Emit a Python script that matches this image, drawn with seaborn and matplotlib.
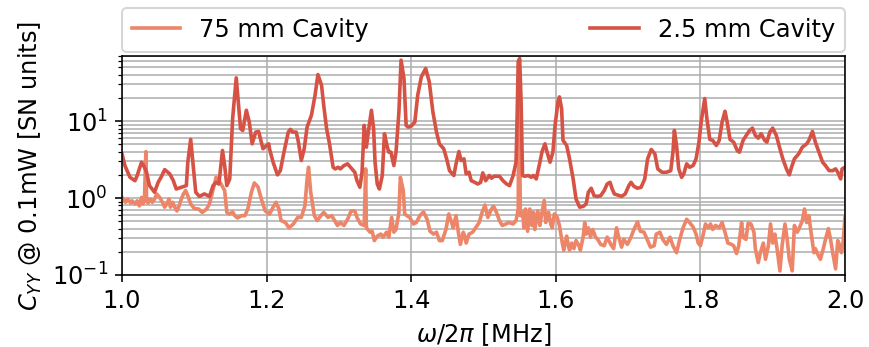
import numpy as np
import pandas as pd
import matplotlib
matplotlib.use("Agg")
import matplotlib.pyplot as plt
import seaborn as sns

# 2.5 mm cavity (dark)
f_short = [1.000, 1.004, 1.011, 1.018, 1.021, 1.027, 1.031, 1.034, 1.038, 1.045, 1.050, 1.054, 1.059, 1.066,
           1.071, 1.075, 1.082, 1.089, 1.091, 1.095, 1.098, 1.102, 1.107, 1.114, 1.121, 1.126, 1.130, 1.134,
           1.139, 1.142, 1.145, 1.149, 1.153, 1.158, 1.164, 1.167, 1.172, 1.176, 1.180, 1.185, 1.189,
           1.195, 1.200, 1.203, 1.204, 1.209, 1.215, 1.219, 1.224, 1.230, 1.233, 1.236, 1.241, 1.244, 1.248,
           1.252, 1.256, 1.262, 1.267, 1.271, 1.276, 1.279, 1.283, 1.287, 1.292, 1.295, 1.299, 1.302, 1.307,
           1.312, 1.316, 1.322, 1.325, 1.329, 1.332, 1.335, 1.338, 1.341, 1.345, 1.348, 1.350, 1.353, 1.356,
           1.360, 1.363, 1.367, 1.369, 1.372, 1.376, 1.379, 1.383, 1.386, 1.390, 1.393,
           1.396, 1.400, 1.405, 1.409, 1.414, 1.420, 1.425, 1.430, 1.435, 1.439, 1.445, 1.449, 1.453, 1.459,
           1.462, 1.466, 1.469, 1.473, 1.476, 1.480, 1.483, 1.488, 1.492, 1.496, 1.499, 1.503, 1.508, 1.511,
           1.515, 1.522, 1.527, 1.532, 1.536, 1.541, 1.545, 1.546, 1.548, 1.550, 1.552, 1.554, 1.557, 1.562,
           1.566, 1.569, 1.573, 1.578, 1.581, 1.585, 1.588, 1.592,
           1.596, 1.599, 1.603, 1.605, 1.608, 1.610, 1.615, 1.619, 1.624, 1.628, 1.633, 1.638, 1.642, 1.645,
           1.649, 1.653, 1.657, 1.662, 1.667, 1.671, 1.675, 1.678, 1.681, 1.686, 1.691, 1.696, 1.701, 1.704,
           1.708, 1.713, 1.718, 1.723, 1.727, 1.732, 1.737, 1.741, 1.747, 1.753, 1.759, 1.762, 1.764, 1.767,
           1.770, 1.774, 1.777, 1.781, 1.785, 1.790,
           1.794, 1.798, 1.801, 1.806, 1.809, 1.813, 1.817, 1.822, 1.826, 1.830, 1.834, 1.837, 1.841, 1.846,
           1.851, 1.854, 1.859, 1.864, 1.868, 1.872, 1.876, 1.880, 1.884, 1.889, 1.892, 1.896, 1.900, 1.905,
           1.910, 1.914, 1.919, 1.923, 1.926, 1.930, 1.936, 1.941, 1.947, 1.950, 1.955, 1.959, 1.964, 1.969,
           1.973, 1.978, 1.983, 1.987, 1.990, 1.994, 1.996, 2.000]
c_short = [3.75, 2.64, 1.86, 1.68, 1.96, 2.92, 2.51, 2.16, 1.45, 1.19, 1.60, 1.86, 2.34, 2.06,
           1.68, 1.31, 1.38, 1.45, 2.92, 5.77, 2.92, 1.19, 1.05, 1.13, 1.05, 1.45, 1.60, 1.52,
           4.14, 2.64, 1.45, 1.77, 10.7, 36.4, 7.94, 7.55, 13.8, 9.7, 5.06, 7.19, 7.3,
           4.36, 4.82, 5.06, 4.36, 2.92, 2.0, 2.27, 3.94, 7.19, 7.8, 7.19, 7.19, 5.32, 3.07,
           4.36, 8.35, 11.9, 21.6, 40.2, 29.2, 16.0, 7.94, 5.06, 2.51, 2.39, 2.51, 2.39, 2.64,
           2.78, 2.51, 2.16, 1.68, 1.38, 2.16, 8.78, 4.58, 7.55, 13.8, 7.94, 2.92, 1.52, 1.31,
           1.96, 6.84, 4.58, 3.94, 3.94, 2.64, 3.94, 13.1, 61.8, 35.7, 8.78,
           8.35, 8.6, 9.7, 21.6, 37.5, 48.2, 32.3, 13.1, 7.19, 5.06, 4.36, 3.23, 2.27, 1.96,
           2.78, 4.02, 3.07, 3.23, 2.06, 2.16, 1.68, 1.60, 1.52, 1.60, 2.12, 1.68, 1.96, 1.81,
           1.92, 1.92, 1.68, 1.52, 1.45, 1.96, 2.92, 6.5, 58.9, 65.0, 17.7, 1.96, 1.92, 1.96,
           1.86, 1.96, 1.77, 2.92, 4.02, 5.06, 3.94, 2.92,
           3.94, 8.78, 17.7, 20.6, 14.5, 5.6, 4.82, 3.23, 1.77, 0.97, 0.76, 0.78, 0.84, 1.19,
           1.34, 1.07, 1.05, 1.07, 1.25, 1.52, 1.60, 1.31, 1.13, 1.09, 1.05, 1.13, 1.45, 1.60,
           1.42, 1.34, 1.38, 1.77, 3.23, 4.27, 3.75, 2.39, 2.16, 2.16, 2.27, 3.94, 7.55, 4.82,
           2.39, 1.86, 2.06, 2.78, 2.51, 2.65,
           3.23, 5.32, 9.7, 19.6, 10.7, 5.77, 5.6, 4.82, 5.6, 9.7, 13.4, 9.7, 5.77, 5.32,
           4.14, 3.94, 5.6, 6.64, 7.55, 8.1, 6.5, 6.0, 6.84, 5.6, 5.32, 7.19, 8.1, 6.5,
           4.36, 3.23, 2.39, 2.0, 2.51, 3.23, 3.75, 4.58, 5.06, 5.6, 7.33, 5.32, 3.94, 2.92,
           2.64, 2.27, 2.27, 2.39, 2.16, 1.77, 2.39, 2.51]

# 75 mm cavity (light)
f_long = [1.000, 1.005, 1.008, 1.012, 1.014, 1.018, 1.021, 1.024, 1.027, 1.029, 1.031, 1.033, 1.034, 1.036,
          1.039, 1.042, 1.045, 1.048, 1.052, 1.056, 1.059, 1.062, 1.065, 1.067, 1.070, 1.073, 1.076, 1.079,
          1.082, 1.085, 1.088, 1.091, 1.095, 1.100, 1.106, 1.111, 1.117, 1.121, 1.125, 1.128, 1.130, 1.134,
          1.137, 1.142, 1.145, 1.149, 1.153, 1.156, 1.160, 1.165, 1.170, 1.174, 1.179, 1.183, 1.188,
          1.193, 1.198, 1.204, 1.209, 1.213, 1.217, 1.220, 1.226, 1.231, 1.237, 1.243, 1.248, 1.253, 1.256,
          1.258, 1.261, 1.266, 1.270, 1.275, 1.279, 1.285, 1.290, 1.293, 1.298, 1.302, 1.307, 1.312, 1.317,
          1.322, 1.325, 1.330, 1.335, 1.337, 1.338, 1.343, 1.346, 1.349, 1.353, 1.358, 1.361, 1.366, 1.369,
          1.373, 1.376, 1.379, 1.383, 1.385, 1.389, 1.391,
          1.394, 1.398, 1.403, 1.407, 1.412, 1.417, 1.422, 1.426, 1.431, 1.435, 1.439, 1.443, 1.448, 1.452,
          1.456, 1.458, 1.462, 1.465, 1.468, 1.472, 1.474, 1.476, 1.480, 1.485, 1.489, 1.494, 1.498, 1.502,
          1.506, 1.511, 1.514, 1.518, 1.522, 1.526, 1.531, 1.535, 1.541, 1.545, 1.548, 1.549, 1.551, 1.554,
          1.556, 1.558, 1.561, 1.564, 1.567, 1.569, 1.571, 1.575, 1.578, 1.580, 1.584, 1.586, 1.590, 1.593,
          1.595, 1.598, 1.602, 1.605, 1.609, 1.611, 1.615, 1.617, 1.619, 1.622, 1.625, 1.628, 1.632, 1.634,
          1.638, 1.640, 1.642, 1.645, 1.648, 1.651, 1.655, 1.658, 1.662, 1.667, 1.671, 1.676, 1.680, 1.684,
          1.687, 1.691, 1.694, 1.699, 1.704, 1.708, 1.713, 1.717, 1.722, 1.727, 1.731, 1.736, 1.739, 1.744,
          1.748, 1.753, 1.758, 1.762, 1.767, 1.771, 1.776, 1.781, 1.785, 1.790,
          1.794, 1.797, 1.800, 1.804, 1.807, 1.811, 1.814, 1.817, 1.821, 1.826, 1.830, 1.834, 1.838, 1.843,
          1.846, 1.850, 1.853, 1.857, 1.859, 1.863, 1.866, 1.870, 1.874, 1.876, 1.880, 1.883, 1.887, 1.890,
          1.894, 1.897, 1.900, 1.903, 1.906, 1.910, 1.913, 1.917, 1.920, 1.923, 1.927, 1.930, 1.934, 1.937,
          1.941, 1.944, 1.947, 1.950, 1.953, 1.957, 1.959, 1.963, 1.966, 1.970, 1.973, 1.977, 1.980, 1.983,
          1.987, 1.990, 1.993, 1.995, 1.997, 2.000]
c_long = [1.02, 0.88, 0.97, 0.86, 0.92, 0.84, 0.92, 0.79, 1.02, 0.84, 0.92, 4.0, 0.92, 0.86,
          0.97, 0.88, 0.97, 1.13, 1.02, 0.88, 0.76, 0.84, 0.97, 0.76, 0.88, 0.76, 0.68, 0.79,
          0.97, 1.13, 1.25, 1.07, 0.84, 0.73, 0.72, 0.65, 0.72, 0.84, 1.19, 1.52, 1.86, 1.68,
          1.52, 1.25, 0.65, 0.62, 0.66, 0.59, 0.55, 0.59, 0.59, 0.72, 1.19, 1.57, 1.4,
          0.95, 0.68, 0.62, 0.76, 0.88, 0.72, 0.51, 0.48, 0.41, 0.46, 0.56, 0.56, 0.79, 1.77,
          2.51, 1.19, 0.59, 0.51, 0.59, 0.65, 0.56, 0.59, 0.53, 0.44, 0.48, 0.44, 0.53, 0.68,
          0.68, 0.56, 0.46, 0.44, 2.39, 0.41, 0.36, 0.37, 0.28, 0.32, 0.34, 0.31, 0.36, 0.31,
          0.56, 0.36, 0.39, 0.65, 1.86, 1.25, 0.62,
          0.59, 0.56, 0.46, 0.48, 0.59, 0.66, 0.53, 0.37, 0.34, 0.36, 0.28, 0.28, 0.39, 0.62,
          0.48, 0.41, 0.59, 0.37, 0.25, 0.36, 0.32, 0.26, 0.34, 0.36, 0.41, 0.48, 0.65, 0.81,
          0.56, 0.72, 0.78, 0.65, 0.51, 0.44, 0.46, 0.48, 0.46, 0.51, 0.72, 50.0, 0.59, 0.65,
          0.41, 0.72, 0.37, 0.72, 0.44, 0.65, 0.39, 0.68, 0.44, 0.59, 0.93, 0.48, 0.65, 0.46,
          0.41, 0.62, 0.56, 0.44, 0.26, 0.21, 0.32, 0.25, 0.21, 0.26, 0.22, 0.28, 0.24, 0.21,
          0.32, 0.48, 0.34, 0.41, 0.31, 0.39, 0.31, 0.29, 0.25, 0.24, 0.31, 0.25, 0.22, 0.41,
          0.31, 0.23, 0.29, 0.25, 0.31, 0.39, 0.49, 0.37, 0.36, 0.28, 0.23, 0.24, 0.34, 0.36,
          0.29, 0.25, 0.31, 0.24, 0.195, 0.28, 0.41, 0.53, 0.48, 0.42,
          0.34, 0.26, 0.24, 0.34, 0.46, 0.41, 0.46, 0.39, 0.44, 0.41, 0.48, 0.36, 0.26, 0.25,
          0.24, 0.19, 0.24, 0.48, 0.31, 0.29, 0.47, 0.46, 0.36, 0.22, 0.145, 0.195, 0.26, 0.16,
          0.24, 0.46, 0.26, 0.34, 0.22, 0.113, 0.24, 0.46, 0.29, 0.16, 0.113, 0.44, 0.36, 0.41,
          0.51, 0.72, 0.48, 0.59, 0.36, 0.195, 0.22, 0.18, 0.16, 0.22, 0.29, 0.40, 0.29, 0.195,
          0.12, 0.28, 0.24, 0.195, 0.24, 0.56]

labels = ["75 mm Cavity", "2.5 mm Cavity"]
colors = ["#ED8569", "#D65244"]

df = pd.concat([
    pd.DataFrame({"f": f_long, "c": c_long, "cavity": labels[0]}),
    pd.DataFrame({"f": f_short, "c": c_short, "cavity": labels[1]}),
], ignore_index=True)

plt.rcParams["font.family"] = ["DejaVu Sans"]
plt.rcParams["font.size"] = 12
plt.rcParams["mathtext.fontset"] = "dejavusans"

fig = plt.figure(figsize=(869 / 145, 347 / 145), dpi=145)
ax = fig.add_axes([122 / 869, 1 - 275 / 347, (845 - 122) / 869, (275 - 56) / 347])

sns.lineplot(data=df, x="f", y="c", hue="cavity", palette=dict(zip(labels, colors)),
             sort=False, estimator=None, lw=1.8, ax=ax)

ax.set_yscale("log")
ax.set_xlim(1.0, 2.0)
ax.set_ylim(0.1, 70)
ax.set_xticks([1.0, 1.2, 1.4, 1.6, 1.8, 2.0])
ax.grid(True, which="major", color="#b0b0b0", lw=0.8)
ax.grid(True, which="minor", axis="y", color="#b0b0b0", lw=0.8)
ax.set_axisbelow(True)
for s in ax.spines.values():
    s.set_color("black")
    s.set_linewidth(0.8)

ax.set_xlabel(r"$\omega/2\pi$ [MHz]")
ax.set_ylabel(r"$C_{YY}$ @ 0.1mW [SN units]")

handles, labs = ax.get_legend_handles_labels()
ax.legend(handles, labs, bbox_to_anchor=(0, 1.02, 1, 0.2), loc="lower left",
          mode="expand", ncol=2, borderaxespad=0, frameon=True)

fig.savefig("out.png", dpi=145)
